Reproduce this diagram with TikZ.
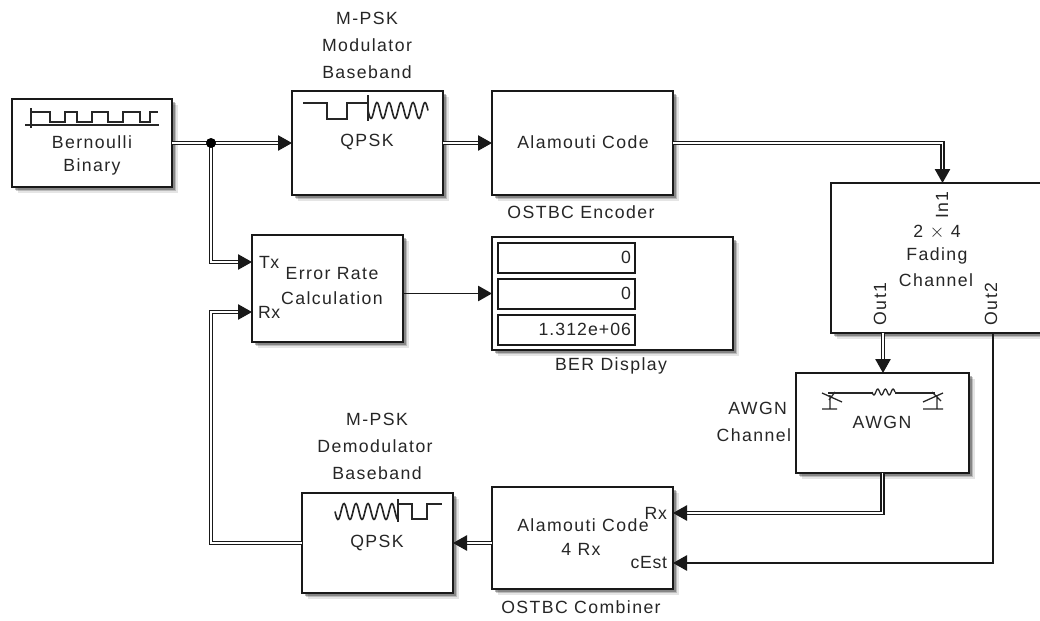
\documentclass[tikz,border=0pt]{standalone}
\usepackage{fontspec}
\usetikzlibrary{arrows.meta,calc,shadows}
\newfontfamily\labfont[LetterSpace=8]{Liberation Sans}
\newfontfamily\portfont[LetterSpace=4]{Liberation Sans}
\newfontfamily\numfont[LetterSpace=6]{Liberation Sans}
\tikzset{
  x=0.75pt,y=-0.75pt,
  block/.style={draw=black!90,line width=1.4pt,fill=white,inner sep=0,outer sep=0,
    general shadow={fill=black,opacity=.10,shadow xshift=4.4pt,shadow yshift=-4.4pt},
    general shadow={fill=black,opacity=.18,shadow xshift=3.2pt,shadow yshift=-3.2pt},
    general shadow={fill=black,opacity=.28,shadow xshift=2pt,shadow yshift=-2pt}},
  innerbox/.style={draw=black!90,line width=1.4pt,fill=white,inner sep=0,outer sep=0},
  lab/.style={font=\labfont\fontsize{13.25}{15}\selectfont,text=black!85,inner sep=0,outer sep=0},
  portlab/.style={font=\portfont\fontsize{13.25}{15}\selectfont,text=black!85,inner sep=0,outer sep=0},
  numlab/.style={font=\numfont\fontsize{13.25}{15}\selectfont,text=black!85,inner sep=0,outer sep=0},
  wire/.style={draw=black!90,line width=1.25pt,-{Triangle[length=10.5pt,width=11.5pt]}},
  bus/.style={draw=black!90,line width=1.15pt,double=white,double distance=1.1pt,-{Triangle[length=10.5pt,width=11.5pt]}},
  icon/.style={draw=black!85,line width=1.2pt,line join=miter},
  thinicon/.style={draw=black!85,line width=.95pt},
}
\newcommand\blk[5]{%
  \pgfmathsetmacro\bw{(#4-#2)*.75}\pgfmathsetmacro\bh{(#5-#3)*.75}%
  \pgfmathsetmacro\cxx{(#2+#4)/2}\pgfmathsetmacro\cyy{(#3+#5)/2}%
  \node[block,minimum width=\bw pt,minimum height=\bh pt] (#1) at (\cxx,\cyy) {};}
\newcommand\ibx[5]{%
  \pgfmathsetmacro\bw{(#4-#2)*.75}\pgfmathsetmacro\bh{(#5-#3)*.75}%
  \pgfmathsetmacro\cxx{(#2+#4)/2}\pgfmathsetmacro\cyy{(#3+#5)/2}%
  \node[innerbox,minimum width=\bw pt,minimum height=\bh pt] (#1) at (\cxx,\cyy) {};}
\begin{document}
\begin{tikzpicture}
\useasboundingbox[fill=white] (0,0) rectangle (1040,621);
% blocks
\blk{bern}{12}{99}{172}{187}
\blk{mod}{292}{91}{443}{195}
\blk{enc}{492}{91}{673}{195}
\blk{fad}{831}{183}{1054}{333}
\blk{awgn}{796}{373}{969}{473}
\blk{err}{252}{235}{403}{342}
\blk{ber}{492}{237}{733}{350}
\blk{comb}{492}{487}{673}{589}
\blk{demod}{302}{493}{453}{593}
\ibx{d1}{498}{243}{635}{273}
\ibx{d2}{498}{279}{635}{309}
\ibx{d3}{498}{315}{635}{345}
% ports
\coordinate (jn) at (211,143);
\coordinate (errTx) at ($(err.west)+(0,-26.5)$);
\coordinate (errRx) at ($(err.west)+(0,23.5)$);
\coordinate (fadIn) at ($(fad.north)+(0,0)$);
\coordinate (fadO1) at ($(fad.south)+(-59.5,0)$);
\coordinate (fadO2) at ($(fad.south)+(50.5,0)$);
\coordinate (combRx) at ($(comb.east)+(0,-25)$);
\coordinate (combC) at ($(comb.east)+(0,25)$);
% connectors
\draw[bus] (bern.east) -- (mod.west);
\draw[bus] (mod.east) -- (enc.west);
\draw[bus] (enc.east) -| (fadIn);
\draw[bus] (jn) |- (errTx);
\draw[bus] (demod.west) -| (jn |- errRx) -- (errRx);
\draw[wire] (err.east |- ber.west) -- (ber.west);
\draw[bus] (fadO1) -- (fadO1 |- awgn.north);
\draw[bus] (awgn.south) |- (combRx);
\draw[wire] (fadO2) |- (combC);
\draw[bus] (comb.west |- demod.east) -- (demod.east);
\node[circle,fill=black,inner sep=0,minimum size=7.5pt] (jdot) at (jn) {};
% block text
\node[lab] (t1) at (92,142) {Bernoulli};
\node[lab] (t2) at (92,167) {Binary};
\node[lab] (t3) at (367,18) {M-PSK};
\node[lab] (t4) at (367,45) {Modulator};
\node[lab] (t5) at (367,72) {Baseband};
\node[lab] (t6) at (367,142) {QPSK};
\node[lab] (t7) at (583,142) {Alamouti Code};
\node[lab] (t8) at (581,212) {OSTBC Encoder};
\node[lab,rotate=90] (t9) at (942,205) {In1};
\node[lab] (t10) at (937,232) {2 $\times$ 4};
\node[lab] (t11) at (937,256) {Fading};
\node[lab] (t12) at (936,280) {Channel};
\node[lab,rotate=90] (t13) at (880,304) {Out1};
\node[lab,rotate=90] (t14) at (991,304) {Out2};
\node[lab,anchor=east] (t15) at (787,408) {AWGN};
\node[lab,anchor=east] (t16) at (791,435) {Channel};
\node[lab] (t17) at (882,422) {AWGN};
\node[portlab,anchor=west] (t18) at (259,262) {Tx};
\node[portlab,anchor=west] (t19) at (258,312) {Rx};
\node[lab] (t20) at (332,274) {Error Rate};
\node[lab] (t21) at (332,298) {Calculation};
\node[numlab,anchor=east] (t22) at (631,257) {0};
\node[numlab,anchor=east] (t23) at (631,293) {0};
\node[numlab,anchor=east] (t24) at (631,329) {1.312e+06};
\node[lab] (t25) at (611,366) {BER Display};
\node[lab] (t26) at (583,525) {Alamouti Code};
\node[lab] (t27) at (581,549) {4 Rx};
\node[portlab,anchor=east] (t28) at (667,513) {Rx};
\node[portlab,anchor=east] (t29) at (667,563) {cEst};
\node[lab] (t30) at (581,607) {OSTBC Combiner};
\node[lab] (t31) at (377,419) {M-PSK};
\node[lab] (t32) at (375,446) {Demodulator};
\node[lab] (t33) at (377,473) {Baseband};
\node[lab] (t34) at (377,543) {QPSK};
% Bernoulli icon
\draw[icon] (25,125) -- (159,125);
\draw[icon] (31,108) -- (31,128);
\draw[icon] (31,112) -- (50,112) -- (50,122) -- (65,122) -- (65,112) -- (77,112) -- (77,122) -- (92,122) -- (92,112) -- (108,112) -- (108,122) -- (123,122) -- (123,112) -- (140,112) -- (140,122) -- (150,122) -- (150,112) -- (158,112);
% modulator icon
\draw[icon] (303,103) -- (327,103) -- (327,119) -- (347,119) -- (347,103) -- (368,103);
\draw[icon] (368,95) -- (368,121);
\draw[icon,smooth] plot[samples=90,domain=368:428,variable=\x] (\x,{110.5+8*sin((\x-368)*30)});
% demodulator icon
\draw[icon,smooth] plot[samples=90,domain=335:398,variable=\x] (\x,{511.5+8*sin((\x-335)*30)});
\draw[icon] (398,499) -- (398,522);
\draw[icon] (398,504) -- (412,504) -- (412,519) -- (427,519) -- (427,504) -- (442,504);
% AWGN icon
\draw[thinicon] (828,393) -- (872,393);
\draw[thinicon] (895,393) -- (935,393);
\draw[thinicon,smooth] plot[samples=40,domain=872:895,variable=\x] (\x,{392+3*sin((\x-872)*47)});
\draw[thinicon] (822,409) -- (837,409) (830,395) -- (830,409) (822,393) -- (842,402) (829,400) -- (835,392);
\draw[thinicon] (923,409) -- (943,409) (937,395) -- (937,409) (923,402) -- (943,393) (932,392) -- (941,401);
\end{tikzpicture}
\end{document}
